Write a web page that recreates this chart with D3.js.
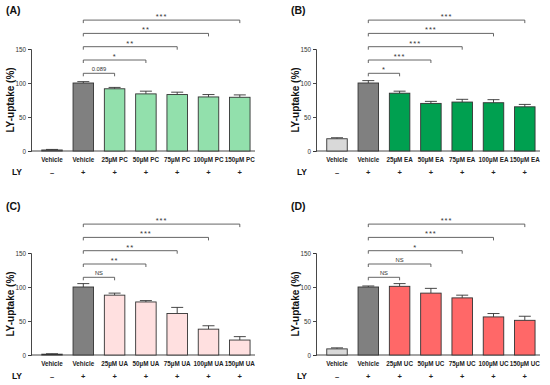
<!DOCTYPE html>
<html><head><meta charset="utf-8">
<script src="https://cdn.jsdelivr.net/npm/d3@7"></script>
<style>body{margin:0;background:#fff}svg{display:block}</style>
</head><body>
<script>
const yTicks = [0, 50, 100, 150];
const lyRow = ["–", "+", "+", "+", "+", "+", "+"];
const catsA = ["Vehicle", "Vehicle", "25µM PC", "50µM PC", "75µM PC", "100µM PC", "150µM PC"];
const catsB = ["Vehicle", "Vehicle", "25µM EA", "50µM EA", "75µM EA", "100µM EA", "150µM EA"];
const catsC = ["Vehicle", "Vehicle", "25µM UA", "50µM UA", "75µM UA", "100µM UA", "150µM UA"];
const catsD = ["Vehicle", "Vehicle", "25µM UC", "50µM UC", "75µM UC", "100µM UC", "150µM UC"];
const valsA = [1.5, 100, 91.5, 84, 83, 79.5, 79];
const errsA = [0.8, 2, 2, 4, 3.5, 3.5, 3.5];
const valsB = [18, 100, 85, 70, 72, 71, 65];
const errsB = [1.5, 3.5, 3, 3, 4, 4.5, 3.5];
const valsC = [1.2, 100, 88, 78, 61, 38, 22];
const errsC = [0.6, 5, 3, 2, 9, 5, 5];
const valsD = [9, 100, 101, 91, 84, 56, 51];
const errsD = [1.5, 1.5, 4, 7, 4, 5, 6];
const sigA = ["0.089", "*", "**", "**", "***"];
const sigB = ["*", "***", "***", "***", "***"];
const sigC = ["NS", "**", "**", "***", "***"];
const sigD = ["NS", "NS", "*", "***", "***"];

const panels = [
  {label: "(A)", cats: catsA, vals: valsA, errs: errsA, sig: sigA, color: "#92e0ac", ox: 0, oy: 0, ty: 0},
  {label: "(B)", cats: catsB, vals: valsB, errs: errsB, sig: sigB, color: "#00a050", ox: 285, oy: 0, ty: 0},
  {label: "(C)", cats: catsC, vals: valsC, errs: errsC, sig: sigC, color: "#ffe0e0", ox: 0, oy: 204, ty: 196},
  {label: "(D)", cats: catsD, vals: valsD, errs: errsD, sig: sigD, color: "#ff6868", ox: 285, oy: 204, ty: 196}
];

const svg = d3.select("body").append("svg").attr("width", 550).attr("height", 385)
  .style("font-family", "'Liberation Sans', Arial, sans-serif");

panels.forEach(p => {
  svg.append("text").attr("x", p.ox + 6).attr("y", p.ty + 14)
    .attr("font-size", 10.5).attr("font-weight", "bold").attr("fill", "#111").text(p.label);

  const g = svg.append("g").attr("transform", `translate(${p.ox},${p.oy})`);
  const x = d3.scaleBand().domain(d3.range(7)).range([36.35, 255.45]).paddingInner(0.345).paddingOuter(0.1725);
  const y = d3.scaleLinear().domain([0, 150]).range([151, 49]);

  const ya = g.append("g").attr("transform", "translate(31,0)")
    .call(d3.axisLeft(y).tickValues(yTicks).tickSize(3).tickPadding(2));
  ya.select(".domain").attr("stroke", "#333").attr("stroke-width", 0.9);
  ya.selectAll(".tick line").attr("stroke", "#333").attr("stroke-width", 0.9);
  ya.selectAll("text").attr("font-size", 6.3).attr("fill", "#333").attr("font-family", "'Liberation Sans', Arial, sans-serif");

  g.append("line").attr("x1", 31).attr("x2", 255).attr("y1", y(0)).attr("y2", y(0))
    .attr("stroke", "#333").attr("stroke-width", 0.9);

  g.append("text").attr("transform", `translate(13.5,${(y(0)+y(150))/2})
 rotate(-90)`)
    .attr("text-anchor", "middle").attr("font-size", 10).attr("font-weight", "bold").attr("fill", "#111")
    .text("LY-uptake (%)");

  const fills = p.vals.map((v, i) => i === 0 ? "#d9d9d9" : i === 1 ? "#808080" : p.color);

  p.vals.forEach((v, i) => {
    const cx = x(i) + x.bandwidth() / 2;
    g.append("line").attr("x1", cx).attr("x2", cx).attr("y1", y(v)).attr("y2", y(v + p.errs[i]))
      .attr("stroke", "#333").attr("stroke-width", 0.9);
    g.append("line").attr("x1", cx - 6).attr("x2", cx + 6).attr("y1", y(v + p.errs[i])).attr("y2", y(v + p.errs[i]))
      .attr("stroke", "#333").attr("stroke-width", 0.9);
  });

  g.selectAll("rect.bar").data(p.vals).enter().append("rect")
    .attr("x", (d, i) => x(i)).attr("width", x.bandwidth())
    .attr("y", d => y(d)).attr("height", d => y(0) - y(d))
    .attr("fill", (d, i) => fills[i]).attr("stroke", "#333").attr("stroke-width", 0.9);

  p.cats.forEach((c, i) => {
    const cx = x(i) + x.bandwidth() / 2;
    g.append("text").attr("x", cx).attr("y", 161.5).attr("text-anchor", "middle")
      .attr("font-size", 6.3).attr("font-weight", "bold").attr("fill", "#222").text(c);
    g.append("text").attr("x", cx).attr("y", 175).attr("text-anchor", "middle")
      .attr("font-size", 7.5).attr("font-weight", "bold").attr("fill", "#222").text(lyRow[i]);
  });
  g.append("text").attr("x", 17).attr("y", 175).attr("text-anchor", "middle")
    .attr("font-size", 8.5).attr("font-weight", "bold").attr("fill", "#111").text("LY");

  const cv = x(1) + x.bandwidth() / 2;
  p.sig.forEach((s, k) => {
    const cx = x(k + 2) + x.bandwidth() / 2;
    const by = 73.3 - k * 13.3;
    g.append("path").attr("d", `M${cv},${by + 3}V${by}H${cx}V${by + 3}`)
      .attr("fill", "none").attr("stroke", "#555").attr("stroke-width", 0.9);
    const isStar = s.indexOf("*") >= 0;
    g.append("text").attr("x", (cv + cx) / 2).attr("y", isStar ? by - 1 : by - 2.5).attr("text-anchor", "middle")
      .attr("font-size", isStar ? 7.5 : 5.8).attr("fill", "#333")
      .attr("letter-spacing", isStar ? 1 : 0).text(s);
  });
});
</script>
</body></html>
